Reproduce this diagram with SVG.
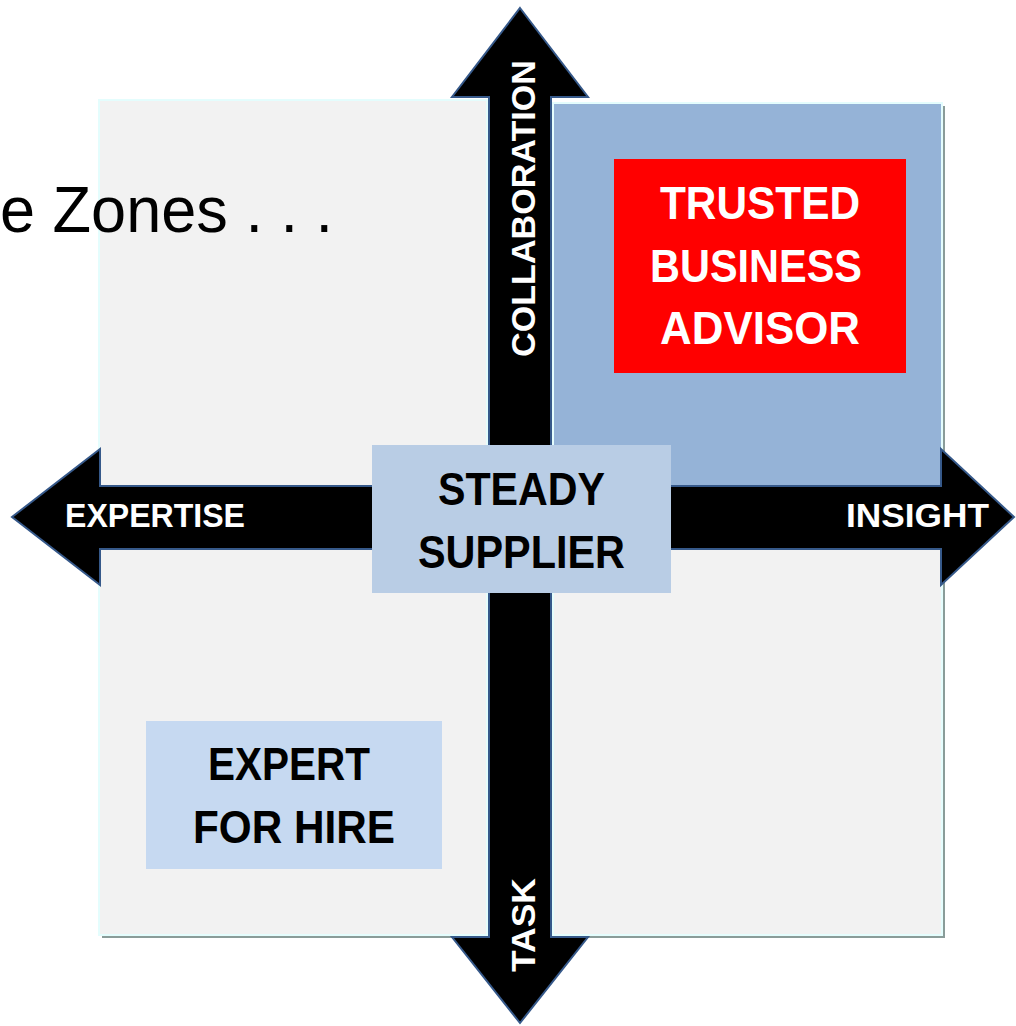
<svg xmlns="http://www.w3.org/2000/svg" width="1016" height="1026" viewBox="0 0 1016 1026">
<style>
.shadow{fill:#8a9c99}
.quad{fill:#f2f2f2;stroke:#e4fdfd;stroke-width:2}
.quad-hi{fill:#95b3d7;stroke:#e4fdfd;stroke-width:2}
.arrow{fill:#000000;stroke:#36598a;stroke-width:2;stroke-linejoin:miter}
.lbl{font-family:"Liberation Sans",Arial,sans-serif;font-weight:bold}
.white{fill:#ffffff}
.black{fill:#000000}
.title{font-family:"Liberation Sans",Arial,sans-serif;font-size:64px;fill:#000000}
</style>
<rect width="1016" height="1026" fill="#ffffff"/>
<g id="quadrant-top-left">
<rect class="shadow" x="102" y="103" width="389" height="387"/>
<rect class="quad" x="99" y="100" width="388" height="387"/>
</g>
<g id="quadrant-bottom-left">
<rect class="shadow" x="102" y="552" width="389" height="386"/>
<rect class="quad" x="99" y="549" width="388" height="386"/>
</g>
<g id="quadrant-top-right">
<rect class="shadow" x="556" y="106" width="389" height="384"/>
<rect class="quad-hi" x="553" y="103" width="389" height="384"/>
</g>
<g id="quadrant-bottom-right">
<rect class="shadow" x="556" y="552" width="389" height="386"/>
<rect class="quad" x="553" y="549" width="389" height="386"/>
</g>
<g id="connectors">
<polygon class="arrow" points="520,8 588,97 551,97 551,486 941,486 941,449 1014,517 941,585 941,549 551,549 551,937 588,937 520,1023 452,937 489,937 489,549 100,549 100,585 12,517 100,449 100,486 489,486 489,97 452,97"/>
<text class="lbl white" x="65" y="527" font-size="33" textLength="180" lengthAdjust="spacingAndGlyphs">EXPERTISE</text>
<text class="lbl white" x="846" y="527" font-size="33" textLength="143" lengthAdjust="spacingAndGlyphs">INSIGHT</text>
<text class="lbl white" transform="translate(535,208.5) rotate(-90)" x="0" y="0" font-size="33" text-anchor="middle" textLength="297" lengthAdjust="spacingAndGlyphs">COLLABORATION</text>
<text class="lbl white" transform="translate(535,925) rotate(-90)" x="0" y="0" font-size="33" text-anchor="middle" textLength="94" lengthAdjust="spacingAndGlyphs">TASK</text>
</g>
<g id="trusted-business-advisor">
<rect x="614" y="159" width="292" height="214" fill="#ff0000"/>
<text class="lbl white" x="760" y="219" font-size="47" text-anchor="middle" textLength="200" lengthAdjust="spacingAndGlyphs">TRUSTED</text>
<text class="lbl white" x="756" y="282" font-size="47" text-anchor="middle" textLength="212" lengthAdjust="spacingAndGlyphs">BUSINESS</text>
<text class="lbl white" x="760" y="344" font-size="47" text-anchor="middle" textLength="200" lengthAdjust="spacingAndGlyphs">ADVISOR</text>
</g>
<g id="steady-supplier">
<rect x="372" y="445" width="299" height="148" fill="#b9cde5"/>
<text class="lbl black" x="521.5" y="505" font-size="47" text-anchor="middle" textLength="167" lengthAdjust="spacingAndGlyphs">STEADY</text>
<text class="lbl black" x="521.5" y="568" font-size="47" text-anchor="middle" textLength="207" lengthAdjust="spacingAndGlyphs">SUPPLIER</text>
</g>
<g id="expert-for-hire">
<rect x="146" y="721" width="296" height="148" fill="#c6d9f1"/>
<text class="lbl black" x="289" y="780" font-size="47" text-anchor="middle" textLength="162" lengthAdjust="spacingAndGlyphs">EXPERT</text>
<text class="lbl black" x="294" y="843" font-size="47" text-anchor="middle" textLength="202" lengthAdjust="spacingAndGlyphs">FOR HIRE</text>
</g>
<g id="title">
<text class="title" x="0" y="232" textLength="333" lengthAdjust="spacingAndGlyphs">e Zones . . .</text>
</g>
</svg>
